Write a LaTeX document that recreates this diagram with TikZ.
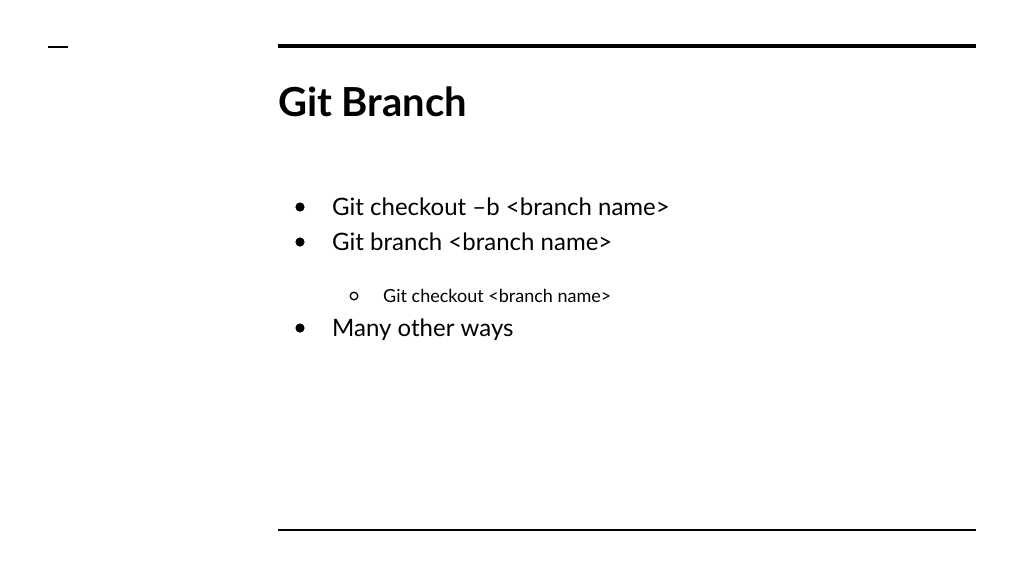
\documentclass[tikz,border=0pt]{standalone}
\usepackage{fontspec}
\setmainfont{Lato}
\begin{document}
\begin{tikzpicture}[x=1pt,y=-1pt,
  body/.style={anchor=base west,inner sep=0pt,font=\fontsize{24}{28}\selectfont},
  sub/.style={anchor=base west,inner sep=0pt,font=\fontsize{18}{22}\selectfont}]
\useasboundingbox (0,0) rectangle (1024,576);
\fill[white] (0,0) rectangle (1024,576);
\coordinate (s1) at (48,47); \coordinate (s2) at (68,47);
\draw[line width=1.8pt] (s1) -- (s2);
\coordinate (t1) at (278,46); \coordinate (t2) at (976,46);
\draw[line width=4pt] (t1) -- (t2);
\coordinate (b1) at (278,530); \coordinate (b2) at (976,530);
\draw[line width=2pt] (b1) -- (b2);
\node[anchor=base west,inner sep=0pt,font=\fontsize{40}{46}\selectfont\bfseries] (title) at (278,116) {Git Branch};
\fill (300,207) circle (4.6);
\node[body] (l1) at (332,215) {Git checkout –b <branch name>};
\fill (300,242) circle (4.6);
\node[body] (l2) at (332,250) {Git branch <branch name>};
\draw[line width=1.3pt] (354,296) circle (3.8);
\node[sub] (l3) at (383,302) {Git checkout <branch name>};
\fill (300,328) circle (4.6);
\node[body] (l4) at (332,336) {Many other ways};
\end{tikzpicture}
\end{document}
